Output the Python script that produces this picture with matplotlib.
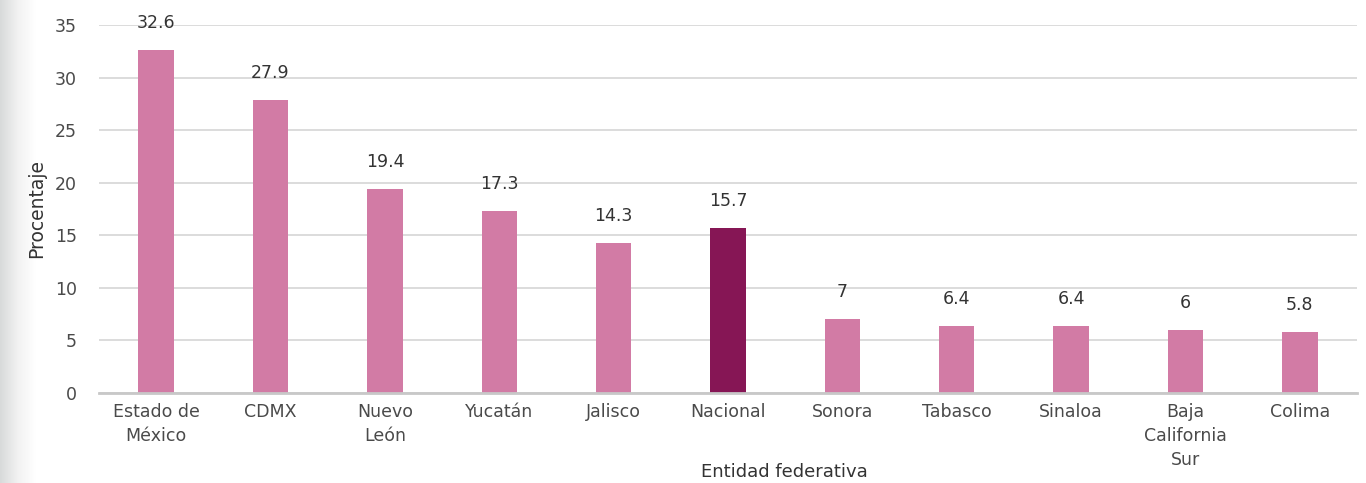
import matplotlib
matplotlib.use('Agg')
import matplotlib.pyplot as plt
from matplotlib.colors import LinearSegmentedColormap
import numpy as np

# data
entidades = ['Estado de\nMéxico', 'CDMX', 'Nuevo\nLeón', 'Yucatán', 'Jalisco',
             'Nacional', 'Sonora', 'Tabasco', 'Sinaloa', 'Baja\nCalifornia\nSur', 'Colima']
porcentaje = [32.6, 27.9, 19.4, 17.3, 14.3, 15.7, 7, 6.4, 6.4, 6, 5.8]
etiquetas = ['32.6', '27.9', '19.4', '17.3', '14.3', '15.7', '7', '6.4', '6.4', '6', '5.8']
y_ticks = [0, 5, 10, 15, 20, 25, 30, 35]

plt.rcParams['font.family'] = ['DejaVu Sans']

PINK = '#D27BA5'
DARK = '#861655'
TXT = '#4a4a4a'

fig = plt.figure(figsize=(13.66, 4.83), dpi=100)

# grey fade strip at the left edge
bg = fig.add_axes([0, 0, 0.026, 1])
fade = LinearSegmentedColormap.from_list('fade', ['#D8DADA', '#F2F2F2', '#FFFFFF'])
bg.imshow(np.linspace(0, 1, 100)[None, :], aspect='auto', cmap=fade,
          extent=[0, 1, 0, 1])
bg.axis('off')

ax = fig.add_axes([99 / 1366, 1 - 393 / 483, 1258 / 1366, 368 / 483])

x = np.arange(len(entidades))
colors = [DARK if e == 'Nacional' else PINK for e in entidades]
ax.bar(x, porcentaje, width=0.31, color=colors, zorder=2)

for xi, v, lab in zip(x, porcentaje, etiquetas):
    ax.annotate(lab, (xi, v), xytext=(0, 19.5), textcoords='offset points',
                ha='center', va='center', fontsize=12.5, color='#333333')

ax.set_xlim(-0.5, len(entidades) - 0.5)
ax.set_ylim(0, 35)
ax.set_yticks(y_ticks)
ax.set_xticks(x)
ax.set_xticklabels(entidades, fontsize=12.5, color=TXT, linespacing=1.45)
ax.tick_params(axis='y', labelsize=12.5, labelcolor=TXT, length=0, pad=16)
ax.tick_params(axis='x', length=0, pad=7)

ax.grid(axis='y', color='#D9D9D9', lw=1.3)
ax.set_axisbelow(True)
for s in ['top', 'right', 'left']:
    ax.spines[s].set_visible(False)
ax.spines['bottom'].set_color('#C8C8C8')
ax.spines['bottom'].set_linewidth(2)
ax.spines['bottom'].set_zorder(4)

ax.set_ylabel('Procentaje', fontsize=13.5, color='#333333', labelpad=6)
ax.set_xlabel('Entidad federativa', fontsize=13, color='#333333')
ax.xaxis.set_label_coords(0.545, -0.19)

fig.savefig('out.png', dpi=100, facecolor='white')
